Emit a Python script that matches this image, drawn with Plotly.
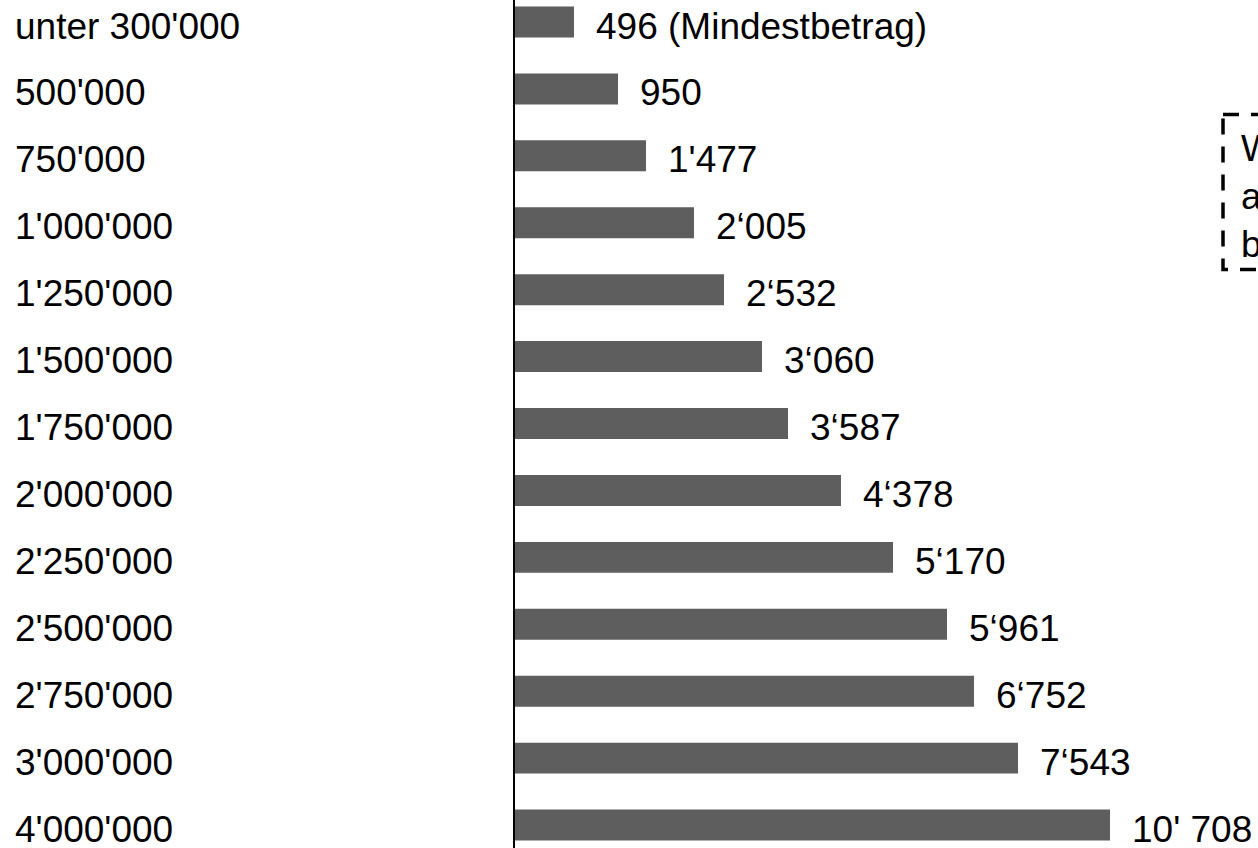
import plotly.graph_objects as go

# ---- data ----
categories = ["unter 300'000", "500'000", "750'000", "1'000'000", "1'250'000",
              "1'500'000", "1'750'000", "2'000'000", "2'250'000", "2'500'000",
              "2'750'000", "3'000'000", "4'000'000"]
value_labels = ["496 (Mindestbetrag)", "950", "1'477", "2\u2018005", "2\u2018532",
                "3\u2018060", "3\u2018587", "4\u2018378", "5\u2018170", "5\u2018961",
                "6\u2018752", "7\u2018543", "10' 708"]
# drawn bar lengths (the picture's bars are not proportional to the labels);
# expressed in the same units as the longest bar (10'708)
bar_lengths = [1062, 1854, 2358, 3222, 3762, 4446, 4914, 5868, 6804, 7776, 8262, 9054, 10710]
note_lines = ["W", "a", "b"]

# ---- layout constants ----
W, H = 1258, 848
PLOT_LEFT = 515
PLOT_W = W - PLOT_LEFT
UNITS_PER_PX = 18
FONT = "Liberation Sans, Arial, sans-serif"
FS = 37

def px_to_paper_x(px):
    return (px - PLOT_LEFT) / PLOT_W

def px_to_paper_y(py):
    return 1 - py / H

fig = go.Figure()
fig.add_trace(go.Bar(
    x=bar_lengths, y=categories, orientation="h",
    marker=dict(color="#5e5e5e", line=dict(width=0)),
    width=0.463, hoverinfo="skip",
))

annotations = []
for cat, lab, L in zip(categories, value_labels, bar_lengths):
    annotations.append(dict(
        x=L, y=cat, xref="x", yref="y", text=lab, showarrow=False,
        xanchor="left", yanchor="middle", xshift=20, yshift=-4,
        font=dict(family=FONT, size=FS, color="black"),
    ))
    annotations.append(dict(
        x=px_to_paper_x(13), y=cat, xref="paper", yref="y", text=cat, showarrow=False,
        xanchor="left", yanchor="middle", yshift=-4,
        font=dict(family=FONT, size=FS, color="black"),
    ))

annotations.append(dict(
    x=px_to_paper_x(1239), y=px_to_paper_y(126), xref="paper", yref="paper",
    text="<br>".join(note_lines), showarrow=False, align="left",
    xanchor="left", yanchor="top",
    font=dict(family=FONT, size=FS, color="black"),
))

fig.add_shape(
    type="rect", xref="paper", yref="paper",
    x0=px_to_paper_x(1223), x1=px_to_paper_x(1400),
    y0=px_to_paper_y(114.5), y1=px_to_paper_y(269.5),
    line=dict(color="black", width=3.5, dash="16px,12px"),
    fillcolor="rgba(0,0,0,0)",
)

fig.update_layout(
    width=W, height=H,
    margin=dict(l=PLOT_LEFT, r=0, t=0, b=0, pad=0),
    paper_bgcolor="white", plot_bgcolor="white",
    showlegend=False,
    annotations=annotations,
    xaxis=dict(visible=False, range=[0, PLOT_W * UNITS_PER_PX], fixedrange=True),
    yaxis=dict(
        type="category", range=[12.343, -0.329],
        showticklabels=False, showgrid=False, zeroline=False, ticks="",
        showline=True, linecolor="black", linewidth=2, fixedrange=True,
    ),
)

fig.write_html("out.html", config={"displayModeBar": False})
